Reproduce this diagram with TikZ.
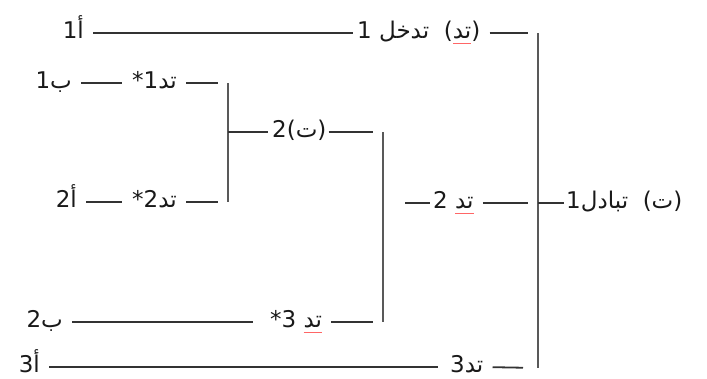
\documentclass[tikz,border=0pt]{standalone}
\usepackage{fontspec}
\setmainfont{Liberation Serif}
\newfontfamily\arabicfont[Script=Arabic]{DejaVu Sans}
\TeXXeTstate=1
% red spell-check mark under a word
\newcommand\spellmark[1]{\setbox0\hbox{#1}\hbox{\beginL\rlap{\raisebox{-6pt}{\textcolor{red!60}{\rule{\wd0}{0.9pt}}}}\box0\endL}}

\begin{document}
\begin{tikzpicture}[x=1pt, y=-1pt,
  lbl/.style={font=\arabicfont\fontsize{23}{27}\selectfont, text=black!90, inner sep=0pt},
  longline/.style={draw=black!80, line width=1.8pt, shorten <=9pt, shorten >=4pt},
  stub/.style={draw=black!80, line width=1.8pt, shorten <=9pt, shorten >=10pt},
  bar/.style={draw=black!65, line width=1.2pt}]

  \useasboundingbox (0,0) rectangle (707,378);

  % bracket bars
  \coordinate (top) at (538,33);     \coordinate (bot) at (538,368);
  \coordinate (rmid) at (538,203);
  \coordinate (midtop) at (383,132); \coordinate (midbot) at (383,322);
  \coordinate (midout) at (383,203);
  \coordinate (smtop) at (228,83);   \coordinate (smbot) at (228,202);
  \coordinate (smmid) at (228,132);
  \draw[bar] (top) -- (bot);
  \draw[bar] (midtop) -- (midbot);
  \draw[bar] (smtop) -- (smbot);

  % row 1
  \node[lbl, anchor=base east] (a1) at (84,38) {\beginR أ1\endR};
  \node[lbl, anchor=base west] (e1) at (357,38) {\beginR (\spellmark{تد})\ \ تدخل 1\endR};
  \draw[longline] ([yshift=5pt]a1.base east) -- ([yshift=5pt]e1.base west);
  \draw[stub] ([yshift=5pt]e1.base east) -- (top);

  % rows 2 and 3
  \node[lbl, anchor=base east] (b1) at (72,88) {\beginR ب1\endR};
  \node[lbl, anchor=base west] (c1) at (132,88) {\beginR تد1*\endR};
  \draw[stub] ([yshift=5pt]b1.base east) -- ([yshift=5pt]c1.base west);
  \draw[stub] ([yshift=5pt]c1.base east) -- (smtop);
  \node[lbl, anchor=base east] (a2) at (77,207) {\beginR أ2\endR};
  \node[lbl, anchor=base west] (c2) at (132,207) {\beginR تد2*\endR};
  \draw[stub] ([yshift=5pt]a2.base east) -- ([yshift=5pt]c2.base west);
  \draw[stub] ([yshift=5pt]c2.base east) -- (smbot);

  % round winner
  \node[lbl, anchor=base west] (t2) at (272,137) {\beginR (ت)2\endR};
  \draw[longline, shorten <=0pt] (smmid) -- ([yshift=5pt]t2.base west);
  \draw[stub, shorten <=2pt] ([yshift=5pt]t2.base east) -- (midtop);

  % row 4 and output
  \node[lbl, anchor=base west] (d2) at (433,208) {\beginR \spellmark{تد}\ 2\endR};
  \draw[stub, shorten <=22pt, shorten >=3pt] (midout) -- ([yshift=5pt]d2.base west);
  \draw[stub] ([yshift=5pt]d2.base east) -- (rmid);
  \node[lbl, anchor=base west] (out) at (566,208) {\beginR (ت)\ \ تبادل1\endR};
  \draw[stub, shorten <=0pt, shorten >=2pt] (rmid) -- ([yshift=5pt]out.base west);

  % rows 5 and 6
  \node[lbl, anchor=base east] (b2) at (63,327) {\beginR ب2\endR};
  \node[lbl, anchor=base west] (c3) at (270,327) {\beginR \spellmark{تد}\ 3*\endR};
  \draw[longline, shorten >=17pt] ([yshift=5pt]b2.base east) -- ([yshift=5pt]c3.base west);
  \draw[stub] ([yshift=5pt]c3.base east) -- (midbot);
  \node[lbl, anchor=base east] (a3) at (40,372) {\beginR أ3\endR};
  \node[lbl, anchor=base west] (c4) at (450,372) {\beginR تد3\endR};
  \draw[longline, shorten >=12pt] ([yshift=5pt]a3.base east) -- ([yshift=5pt]c4.base west);
  \draw[stub, shorten >=15pt] ([yshift=5pt]c4.base east) -- (bot);
\end{tikzpicture}
\end{document}
